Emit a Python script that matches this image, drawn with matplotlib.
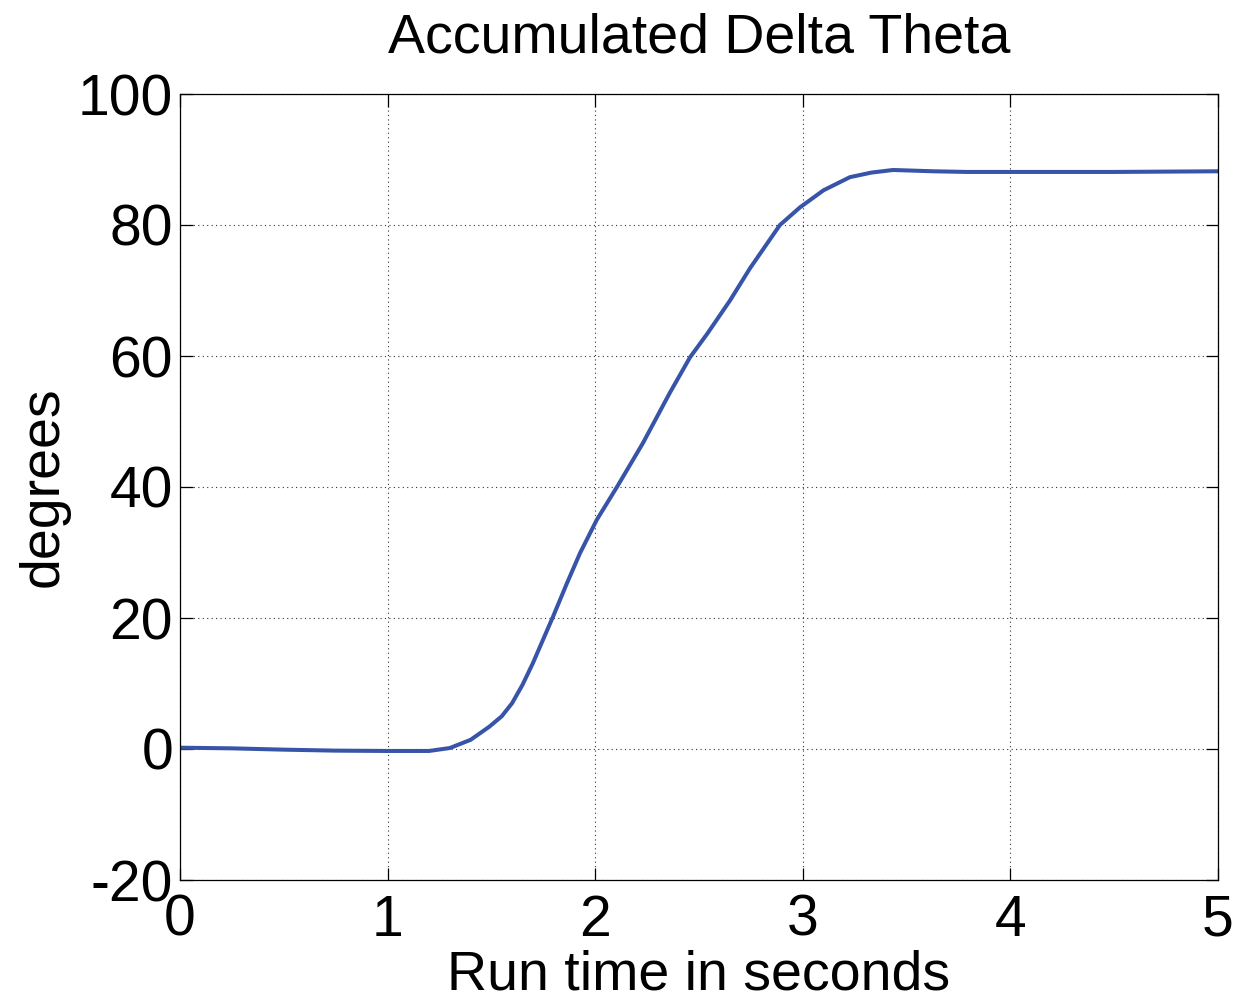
import matplotlib
matplotlib.use("Agg")
import matplotlib.pyplot as plt

# Accumulated delta theta over the run (seconds, degrees)
run_time = [0.0, 0.25, 0.5, 0.75, 1.0, 1.2, 1.3, 1.4, 1.49, 1.55, 1.6, 1.65, 1.7,
            1.734, 1.797, 1.864, 1.927, 2.008, 2.105, 2.23, 2.36, 2.457, 2.54,
            2.65, 2.746, 2.89, 2.987, 3.10, 3.227, 3.33, 3.435, 3.63, 3.79, 4.0,
            4.5, 5.0]
delta_theta = [0.2, 0.1, -0.1, -0.25, -0.3, -0.3, 0.15, 1.4, 3.4, 5.0, 7.0, 9.8,
               13.1, 15.6, 20.2, 25.3, 29.9, 35.0, 40.0, 46.7, 54.4, 59.8, 63.4,
               68.5, 73.4, 80.0, 82.7, 85.3, 87.3, 88.0, 88.4, 88.2, 88.1, 88.1,
               88.1, 88.2]

x_ticks = [0, 1, 2, 3, 4, 5]
y_ticks = [-20, 0, 20, 40, 60, 80, 100]

plt.rcParams['font.family'] = ['Liberation Sans', 'DejaVu Sans']
plt.rcParams['axes.unicode_minus'] = False

fig = plt.figure(figsize=(12.36, 10.0), dpi=100)
ax = fig.add_axes([0.1456, 0.12, 0.8398, 0.786])

ax.plot(run_time, delta_theta, color='#3754a8', linewidth=2.9,
        solid_joinstyle='round')

ax.set_xlim(0, 5)
ax.set_ylim(-20, 100)
ax.set_xticks(x_ticks)
ax.set_yticks(y_ticks)
ax.tick_params(direction='in', length=9, width=0.9, top=True, right=True,
               labelsize=41)
ax.tick_params(axis='x', pad=10)
ax.tick_params(axis='y', pad=5)
ax.grid(True, linestyle=(0, (1, 3)), color='#333333', linewidth=0.8)
for s in ax.spines.values():
    s.set_linewidth(0.9)

ax.set_title('Accumulated Delta Theta', fontsize=40, pad=30)
ax.set_xlabel('Run time in seconds', fontsize=40, labelpad=1)
ax.set_ylabel('degrees', fontsize=40, labelpad=6)

fig.savefig('out.png', dpi=100)
